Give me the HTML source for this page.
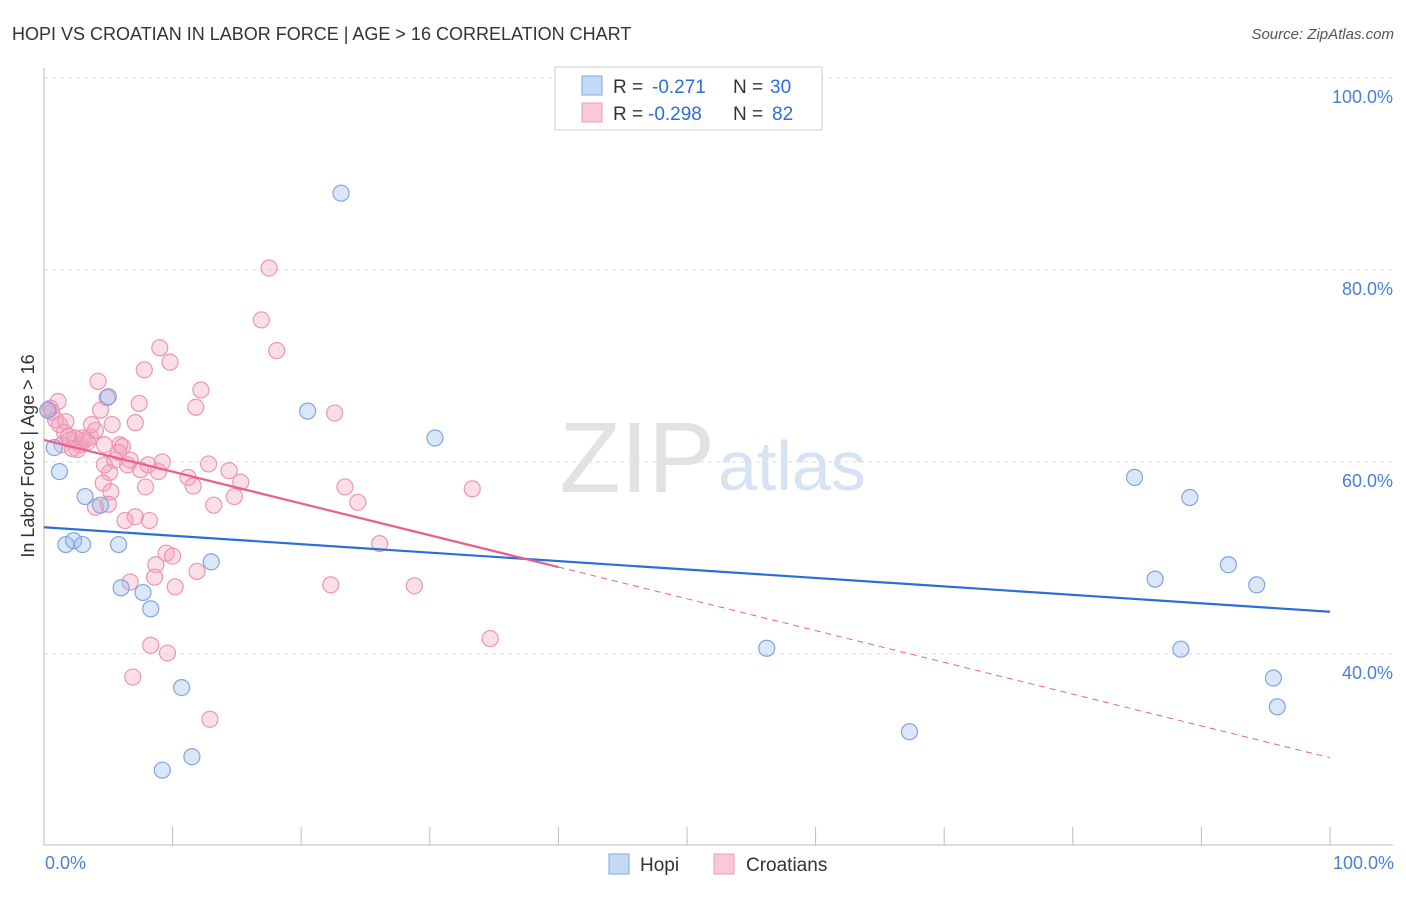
<!DOCTYPE html>
<html><head><meta charset="utf-8"><style>
body{margin:0;background:#fff;font-family:"Liberation Sans",sans-serif;}
svg text{font-family:"Liberation Sans",sans-serif;}
</style></head><body>
<svg width="1406" height="892" xmlns="http://www.w3.org/2000/svg">
<text x="12" y="40" font-size="18" fill="#333">HOPI VS CROATIAN IN LABOR FORCE | AGE &gt; 16 CORRELATION CHART</text>
<text x="1394" y="39" font-size="15" fill="#555" font-style="italic" text-anchor="end">Source: ZipAtlas.com</text>
<g id="grid"></g>
<text x="715" y="492" font-size="100" fill="#e2e2e2" text-anchor="end" font-family="Liberation Serif">ZIP</text>
<text x="718" y="490" font-size="70" fill="#d6e3f5">atlas</text>
<g id="axes"></g>
<g id="marks"></g>
<text x="34" y="456" font-size="18" fill="#333" text-anchor="middle" transform="rotate(-90 34 456)">In Labor Force | Age &gt; 16</text>
<text x="45" y="869" font-size="18" fill="#4a7fd8">0.0%</text>
<text x="1394" y="869" font-size="18" fill="#4a7fd8" text-anchor="end">100.0%</text>
<g>
<rect x="555" y="67" width="267" height="63" fill="#fff" stroke="#ccc"/>
<rect x="582" y="76" width="20" height="19" fill="#c4d9f5" stroke="#7ea6e0"/>
<rect x="582" y="103" width="20" height="19" fill="#f9c9d8" stroke="#eba0b8"/>
<text y="93" font-size="19" fill="#333"><tspan x="613">R =</tspan><tspan x="652" fill="#2a6fd6">-0.271</tspan><tspan x="733">N =</tspan><tspan x="770" fill="#2a6fd6">30</tspan></text>
<text y="120" font-size="19" fill="#333"><tspan x="613">R =</tspan><tspan x="648" fill="#2a6fd6">-0.298</tspan><tspan x="733">N =</tspan><tspan x="772" fill="#2a6fd6">82</tspan></text>
</g>
<g>
<rect x="609" y="854" width="20" height="20" fill="#c4d9f5" stroke="#7ea6e0"/>
<text x="640" y="871" font-size="19" fill="#333">Hopi</text>
<rect x="714" y="854" width="20" height="20" fill="#f9c9d8" stroke="#eba0b8"/>
<text x="746" y="871" font-size="19" fill="#333">Croatians</text>
</g>
</svg>
<script>
const yTicks=[100,80,60,40];
const yTickLabels=["100.0%","80.0%","60.0%","40.0%"];
const xTicks=[0,10,20,30,40,50,60,70,80,90,100];
const hopiX=[23.1,20.5,30.4,5.0,0.8,1.2,3.2,4.4,1.7,2.3,3.0,5.8,6.0,7.7,8.3,13.0,10.7,9.2,11.5,56.2,67.3,84.8,89.1,86.4,92.1,94.3,88.4,95.6,95.9,0.3];
const hopiY=[88.0,65.3,62.5,66.8,61.5,59.0,56.4,55.5,51.4,51.8,51.4,51.4,46.9,46.4,44.7,49.6,36.5,27.9,29.3,40.6,31.9,58.4,56.3,47.8,49.3,47.2,40.5,37.5,34.5,65.4];
const croX=[0.3,0.6,0.9,1.2,1.6,2.0,2.4,2.8,3.2,3.6,4.0,1.4,1.9,2.6,3.4,4.4,4.2,4.9,5.3,5.9,6.1,4.7,5.1,4.6,5.2,6.5,7.5,7.9,8.1,8.9,9.2,7.1,7.4,7.8,9.0,9.8,12.2,11.8,11.2,11.6,12.8,13.2,14.4,14.8,15.3,6.3,7.1,8.2,9.5,10.0,8.7,8.6,10.2,11.9,6.7,8.3,9.6,6.9,12.9,17.5,16.9,18.1,22.6,23.4,24.4,26.1,22.3,28.8,33.3,34.7,4.7,5.5,3.7,1.1,1.7,2.2,3.0,5.8,6.7,0.5,5.0,4.0];
const croY=[65.4,65.2,64.4,63.9,63.1,62.3,62.5,61.8,62.3,62.6,63.3,61.8,62.7,61.3,62.1,65.4,68.4,66.7,63.9,61.8,61.6,59.7,58.9,57.8,56.9,59.7,59.2,57.4,59.7,59.0,60.0,64.1,66.1,69.6,71.9,70.4,67.5,65.7,58.4,57.5,59.8,55.5,59.1,56.4,57.9,53.9,54.3,53.9,50.5,50.2,49.3,48.0,47.0,48.6,47.5,40.9,40.1,37.6,33.2,80.2,74.8,71.6,65.1,57.4,55.8,51.5,47.2,47.1,57.2,41.6,61.8,60.2,63.9,66.3,64.2,61.4,62.5,61.0,60.2,65.6,55.6,55.3];
const hopiTrend=[53.2,44.4];
const croTrend=[62.3,29.2];
const croSolidEnd=40;
const NS="http://www.w3.org/2000/svg";
const X=v=>44+v*12.86, Y=v=>78+(100-v)*9.6;
function mk(t,a,p){const e=document.createElementNS(NS,t);for(const k in a)e.setAttribute(k,a[k]);p.appendChild(e);return e;}
const grid=document.getElementById('grid'),axes=document.getElementById('axes'),marks=document.getElementById('marks');
yTicks.forEach((v,i)=>{
 const l=mk('line',{x1:44,x2:1393,y1:Y(v),y2:Y(v),stroke:'#ddd','stroke-dasharray':'4,4'},grid);
 
 
 const t=mk('text',{x:1393,y:Y(v)+25,'font-size':18,fill:'#4a7fd8','text-anchor':'end'},grid);
 t.textContent=yTickLabels[i];
 
 
});
mk('line',{x1:44,x2:44,y1:68,y2:845,stroke:'#bbb'},axes);
mk('line',{x1:44,x2:1393,y1:845,y2:845,stroke:'#bbb'},axes);
xTicks.forEach(v=>{const l=mk('line',{x1:X(v),x2:X(v),y1:827,y2:845,stroke:'#bbb'},axes);
 
 });
croX.forEach((x,i)=>{const c=mk('circle',{cx:X(x),cy:Y(croY[i]),r:8,fill:'rgba(244,160,188,0.35)',stroke:'#eb96b3','stroke-width':1.2},marks);
 
 });
hopiX.forEach((x,i)=>{const c=mk('circle',{cx:X(x),cy:Y(hopiY[i]),r:8,fill:'rgba(150,185,235,0.35)',stroke:'#7ea6e0','stroke-width':1.2},marks);
 
 });
const cy=x=>croTrend[0]+(croTrend[1]-croTrend[0])*x/100;
let l=mk('line',{x1:X(0),y1:Y(hopiTrend[0]),x2:X(100),y2:Y(hopiTrend[1]),stroke:'#2a6fd6','stroke-width':2.2},marks);


l=mk('line',{x1:X(0),y1:Y(cy(0)),x2:X(croSolidEnd),y2:Y(cy(croSolidEnd)),stroke:'#e8608e','stroke-width':2.2},marks);


l=mk('line',{x1:X(croSolidEnd),y1:Y(cy(croSolidEnd)),x2:X(100),y2:Y(cy(100)),stroke:'#e8608e','stroke-width':1,'stroke-dasharray':'6,5'},marks);


</script>
</body></html>
